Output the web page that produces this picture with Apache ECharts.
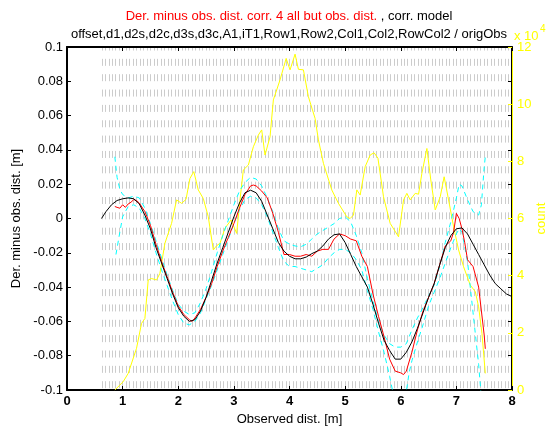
<!DOCTYPE html>
<html>
<head>
<meta charset="utf-8">
<script src="https://cdn.jsdelivr.net/npm/echarts@6/dist/echarts.min.js"></script>
<style>
  html, body { margin: 0; padding: 0; background: #fff; }
  #chart { width: 549px; height: 428px; }
</style>
</head>
<body>
<div id="chart"></div>
<script>
// model curve (black)
const blkX = [0.62, 0.7, 0.8, 0.9, 1.0, 1.1, 1.2, 1.3, 1.4, 1.5, 1.6, 1.7, 1.8, 1.9, 2.0, 2.1, 2.2, 2.3, 2.4, 2.5,
  2.6, 2.7, 2.8, 2.9, 3.0, 3.1, 3.2, 3.3, 3.4, 3.5, 3.6, 3.7, 3.8, 3.9, 4.0, 4.1, 4.2, 4.3, 4.4, 4.5,
  4.6, 4.7, 4.8, 4.9, 5.0, 5.1, 5.2, 5.3, 5.4, 5.5, 5.6, 5.7, 5.8, 5.9, 6.0, 6.1, 6.2, 6.3, 6.4, 6.5,
  6.6, 6.7, 6.8, 6.9, 7.0, 7.1, 7.2, 7.3, 7.4, 7.5, 7.6, 7.7, 7.8, 7.9, 8.0];
const blkY = [0.000, 0.004, 0.008, 0.0105, 0.0115, 0.012, 0.0115, 0.0085, 0.002, -0.006, -0.017, -0.026, -0.035, -0.044, -0.052, -0.057, -0.060, -0.059, -0.054, -0.046,
  -0.036, -0.026, -0.017, -0.008, 0.001, 0.009, 0.015, 0.0165, 0.015, 0.010, 0.002, -0.006, -0.014, -0.019, -0.022, -0.0235, -0.0235, -0.0225, -0.0205, -0.019,
  -0.016, -0.012, -0.0095, -0.009, -0.014, -0.021, -0.028, -0.034, -0.040, -0.050, -0.061, -0.071, -0.077, -0.082, -0.082, -0.078, -0.072, -0.064, -0.055, -0.046,
  -0.038, -0.027, -0.017, -0.010, -0.006, -0.0055, -0.009, -0.015, -0.021, -0.027, -0.033, -0.038, -0.041, -0.044, -0.0455];

// derived minus observed (red)
const redX = [0.86, 0.9, 0.95, 1.0, 1.05, 1.1, 1.15, 1.2, 1.25, 1.3, 1.4, 1.5, 1.6, 1.7, 1.8, 1.9, 2.0, 2.1, 2.2, 2.25,
  2.3, 2.4, 2.5, 2.6, 2.7, 2.8, 2.9, 3.0, 3.1, 3.2, 3.3, 3.35, 3.4, 3.5, 3.6, 3.7, 3.8, 3.9, 4.0, 4.1,
  4.2, 4.3, 4.4, 4.5, 4.6, 4.7, 4.8, 4.9, 5.0, 5.1, 5.2, 5.3, 5.4, 5.5, 5.6, 5.7, 5.8, 5.9, 6.0, 6.05,
  6.1, 6.2, 6.3, 6.4, 6.5, 6.6, 6.7, 6.8, 6.9, 6.95, 7.0, 7.05, 7.1, 7.15, 7.2, 7.3, 7.4, 7.5, 7.52];
const redY = [0.007, 0.0065, 0.006, 0.008, 0.0065, 0.0085, 0.0095, 0.011, 0.0105, 0.009, 0.004, -0.004, -0.015, -0.025, -0.034, -0.043, -0.051, -0.056, -0.059, -0.060,
  -0.058, -0.053, -0.046, -0.038, -0.028, -0.019, -0.011, -0.003, 0.006, 0.014, 0.019, 0.0195, 0.019, 0.016, 0.012, 0.003, -0.008, -0.021, -0.021, -0.022,
  -0.022, -0.021, -0.022, -0.019, -0.018, -0.018, -0.012, -0.009, -0.010, -0.012, -0.013, -0.022, -0.028, -0.044, -0.057, -0.069, -0.082, -0.089, -0.090, -0.091,
  -0.089, -0.078, -0.065, -0.054, -0.046, -0.038, -0.027, -0.016, -0.013, -0.008, 0.003, 0.000, -0.006, -0.014, -0.024, -0.028, -0.040, -0.068, -0.076];

// confidence bounds (cyan, dashed)
const upX = [0.86, 0.9, 0.95, 1.0, 1.1, 1.2, 1.3, 1.4, 1.5, 1.6, 1.7, 1.8, 1.9, 2.0, 2.1, 2.2, 2.3, 2.4, 2.5, 2.6,
  2.7, 2.8, 2.9, 3.0, 3.1, 3.2, 3.3, 3.4, 3.5, 3.6, 3.7, 3.8, 3.9, 4.0, 4.1, 4.2, 4.3, 4.4, 4.5, 4.6,
  4.7, 4.8, 4.9, 5.0, 5.1, 5.2, 5.3, 5.4, 5.5, 5.6, 5.7, 5.8, 5.9, 6.0, 6.1, 6.2, 6.3, 6.4, 6.5, 6.6,
  6.7, 6.8, 6.9, 7.0, 7.05, 7.1, 7.2, 7.3, 7.4, 7.45, 7.5, 7.52];
const upY = [0.036, 0.024, 0.017, 0.014, 0.012, 0.013, 0.012, 0.006, -0.003, -0.013, -0.023, -0.033, -0.042, -0.050, -0.054, -0.056, -0.055, -0.049, -0.041, -0.031,
  -0.020, -0.010, -0.001, 0.008, 0.016, 0.021, 0.024, 0.023, 0.019, 0.012, 0.004, -0.006, -0.013, -0.015, -0.016, -0.0165, -0.015, -0.012, -0.009, -0.007,
  -0.005, -0.003, 0.000, 0.001, -0.002, -0.010, -0.020, -0.035, -0.048, -0.060, -0.068, -0.073, -0.075, -0.075, -0.073, -0.065, -0.058, -0.052, -0.045, -0.039,
  -0.028, -0.014, -0.002, 0.012, 0.020, 0.019, 0.011, 0.004, 0.002, 0.008, 0.030, 0.036];
const loX = [0.88, 0.95, 1.0, 1.1, 1.2, 1.3, 1.4, 1.5, 1.6, 1.7, 1.8, 1.9, 2.0, 2.1, 2.2, 2.3, 2.4, 2.5, 2.6, 2.7,
  2.8, 2.9, 3.0, 3.1, 3.2, 3.3, 3.4, 3.5, 3.6, 3.7, 3.8, 3.9, 4.0, 4.1, 4.2, 4.3, 4.4, 4.5, 4.6, 4.7,
  4.8, 4.9, 5.0, 5.1, 5.2, 5.3, 5.4, 5.5, 5.6, 5.7, 5.8, 5.9, 6.0, 6.1, 6.15, 6.2, 6.3, 6.4, 6.5, 6.6,
  6.7, 6.8, 6.9, 7.0, 7.05, 7.1, 7.2, 7.3, 7.4, 7.45];
const loY = [-0.021, -0.008, 0.001, 0.007, 0.008, 0.006, 0.000, -0.009, -0.020, -0.030, -0.039, -0.048, -0.056, -0.061, -0.062, -0.060, -0.055, -0.047, -0.039, -0.030,
  -0.021, -0.012, -0.003, 0.005, 0.011, 0.013, 0.012, 0.008, 0.001, -0.008, -0.017, -0.025, -0.028, -0.028, -0.029, -0.030, -0.031, -0.029, -0.027, -0.023,
  -0.020, -0.018, -0.018, -0.020, -0.024, -0.030, -0.042, -0.053, -0.066, -0.078, -0.092, -0.108, -0.110, -0.101, -0.090, -0.083, -0.072, -0.062, -0.051, -0.043,
  -0.035, -0.026, -0.017, -0.009, -0.006, -0.008, -0.025, -0.055, -0.085, -0.105];

// observation count (yellow, right axis)
const cntX = [0.86, 1.01, 1.10, 1.25, 1.34, 1.40, 1.46, 1.52, 1.61, 1.67, 1.76, 1.88, 1.97, 2.06, 2.14, 2.21, 2.28, 2.36, 2.45, 2.54,
  2.63, 2.69, 2.75, 2.84, 2.95, 3.05, 3.11, 3.17, 3.26, 3.35, 3.44, 3.50, 3.56, 3.65, 3.71, 3.83, 3.94, 4.01, 4.10, 4.16,
  4.25, 4.34, 4.46, 4.52, 4.61, 4.76, 4.88, 5.03, 5.09, 5.15, 5.21, 5.27, 5.36, 5.45, 5.52, 5.59, 5.69, 5.81, 5.96, 6.05,
  6.11, 6.17, 6.26, 6.32, 6.38, 6.47, 6.54, 6.62, 6.71, 6.78, 6.86, 6.95, 7.04, 7.13, 7.25, 7.34, 7.40, 7.46, 7.52];
const cntY = [0, 2900, 5800, 14600, 23300, 25000, 38500, 39000, 38500, 40800, 51300, 58300, 66500, 65300, 66700, 74000, 76400, 70000, 67000, 60600,
  49000, 50500, 51300, 56600, 59500, 54800, 66500, 77000, 78700, 85100, 89200, 91000, 82200, 88600, 101500, 108500, 116000, 112000, 117500, 112200,
  112000, 102600, 95000, 87500, 79300, 70000, 65300, 60600, 60000, 61200, 70000, 68200, 78100, 82200, 83000, 81100, 67600, 58300, 53600, 66500,
  68800, 66500, 68800, 68500, 75800, 84500, 73500, 63000, 67600, 74600, 66500, 57100, 49000, 43100, 36700, 34400, 29100, 19800, 5800];

const titleRed = 'Der. minus obs. dist. corr. 4 all but obs. dist.';
const titleBlack = ' , corr. model';
const titleLine2 = 'offset,d1,d2s,d2c,d3s,d3c,A1,iT1,Row1,Row2,Col1,Col2,RowCol2 / origObs';

function zip(xs, ys) {
  return xs.map(function (x, i) { return [x, ys[i]]; });
}

const chart = echarts.init(document.getElementById('chart'), null, { renderer: 'canvas' });
const FONT = 'Liberation Sans, Arial, sans-serif';

const option = {
  backgroundColor: '#fff',
  animation: false,
  textStyle: { fontFamily: FONT },
  grid: [
    { left: 67, right: 37, top: 47, bottom: 38, outerBoundsMode: 'none', containLabel: false },
    { left: 101.8, right: 37, top: 47, bottom: 38, outerBoundsMode: 'none', containLabel: false } // gray dotted columns
  ],
  graphic: [
    {
      type: 'text', x: 289, y: 16,
      style: {
        text: '{r|' + titleRed + '}{k|' + titleBlack + '}',
        rich: {
          r: { fill: '#ff0000', fontSize: 13, fontFamily: FONT },
          k: { fill: '#000', fontSize: 13, fontFamily: FONT }
        },
        align: 'center', verticalAlign: 'middle'
      }
    },
    {
      type: 'text', x: 289, y: 34,
      style: { text: titleLine2, fill: '#000', font: '13px ' + FONT, align: 'center', verticalAlign: 'middle' }
    },
    {
      type: 'text', x: 514, y: 36,
      style: { text: 'x 10', fill: '#ffff00', font: '13px ' + FONT, align: 'left', verticalAlign: 'middle' }
    },
    {
      type: 'text', x: 540, y: 29,
      style: { text: '4', fill: '#ffff00', font: '10px ' + FONT, align: 'left', verticalAlign: 'middle' }
    }
  ],
  xAxis: [
    {
      gridIndex: 0, type: 'value', position: 'bottom', min: 0, max: 8, interval: 1,
      name: 'Observed dist. [m]', nameLocation: 'middle', nameGap: 16,
      nameTextStyle: { color: '#000', fontSize: 13 },
      axisLine: { onZero: false, lineStyle: { color: '#000', width: 2 } },
      axisTick: { inside: true, length: 4, lineStyle: { color: '#000' } },
      axisLabel: { color: '#000', fontSize: 13, fontWeight: 'bold', margin: 5 },
      splitLine: { show: false }
    },
    {
      gridIndex: 0, type: 'value', position: 'top', min: 0, max: 8, interval: 1,
      axisLine: { onZero: false, lineStyle: { color: '#000', width: 2 } },
      axisTick: { inside: true, length: 4, lineStyle: { color: '#000' } },
      axisLabel: { show: false },
      splitLine: { show: false }
    },
    {
      gridIndex: 1, type: 'value', min: 0.625, max: 8, interval: 0.0625,
      axisLine: { show: false }, axisTick: { show: false }, axisLabel: { show: false },
      splitLine: { show: true, lineStyle: { color: '#cccccc', width: 1, type: [7, 8.35], dashOffset: 3.5 } }
    }
  ],
  yAxis: [
    {
      gridIndex: 0, type: 'value', position: 'left', min: -0.1, max: 0.1, interval: 0.02,
      name: 'Der. minus obs. dist. [m]', nameLocation: 'middle', nameGap: 40,
      nameTextStyle: { color: '#000', fontSize: 13 },
      axisLine: { onZero: false, lineStyle: { color: '#000', width: 2 } },
      axisTick: { inside: true, length: 4, lineStyle: { color: '#000' } },
      axisLabel: {
        color: '#000', fontSize: 13, margin: 4,
        formatter: function (v) { return String(+v.toFixed(2)); }
      },
      splitLine: { show: false }
    },
    {
      gridIndex: 0, type: 'value', position: 'right', offset: 0, min: -0.1, max: 0.1, interval: 0.02,
      axisLine: { onZero: false, lineStyle: { color: '#000', width: 2 } },
      axisTick: { inside: true, length: 4, lineStyle: { color: '#000' } },
      axisLabel: { show: false },
      splitLine: { show: false }
    },
    {
      gridIndex: 0, type: 'value', position: 'right', offset: 0, min: 0, max: 120000, interval: 20000,
      name: 'count', nameLocation: 'middle', nameGap: 23, nameRotate: 90, nameMoveOverlap: false,
      nameTextStyle: { color: '#ffff00', fontSize: 13 },
      axisLine: { onZero: false, lineStyle: { color: '#ffff00', width: 1 } },
      axisTick: { inside: true, length: 4, lineStyle: { color: '#ffff00' } },
      axisLabel: {
        color: '#ffff00', fontSize: 13, margin: 5,
        formatter: function (v) { return String(v / 10000); }
      },
      splitLine: { show: false }
    },
    {
      gridIndex: 1, type: 'value', min: 0, max: 1, show: false
    }
  ],
  series: [
    {
      name: 'count', type: 'line', xAxisIndex: 0, yAxisIndex: 2,
      data: zip(cntX, cntY), showSymbol: false, symbol: 'none',
      lineStyle: { color: '#ffff00', width: 1 }, z: 2
    },
    {
      name: 'upper', type: 'line', xAxisIndex: 0, yAxisIndex: 0,
      data: zip(upX, upY), showSymbol: false, symbol: 'none',
      lineStyle: { color: '#00ffff', width: 1, type: [5, 4] }, z: 3
    },
    {
      name: 'lower', type: 'line', xAxisIndex: 0, yAxisIndex: 0,
      data: zip(loX, loY), showSymbol: false, symbol: 'none',
      lineStyle: { color: '#00ffff', width: 1, type: [5, 4] }, z: 3
    },
    {
      name: 'derived', type: 'line', xAxisIndex: 0, yAxisIndex: 0,
      data: zip(redX, redY), showSymbol: false, symbol: 'none',
      lineStyle: { color: '#ff0000', width: 1 }, z: 4
    },
    {
      name: 'model', type: 'line', xAxisIndex: 0, yAxisIndex: 0,
      data: zip(blkX, blkY), showSymbol: false, symbol: 'none',
      lineStyle: { color: '#000', width: 1 }, z: 5
    }
  ]
};

chart.setOption(option);
</script>
</body>
</html>
